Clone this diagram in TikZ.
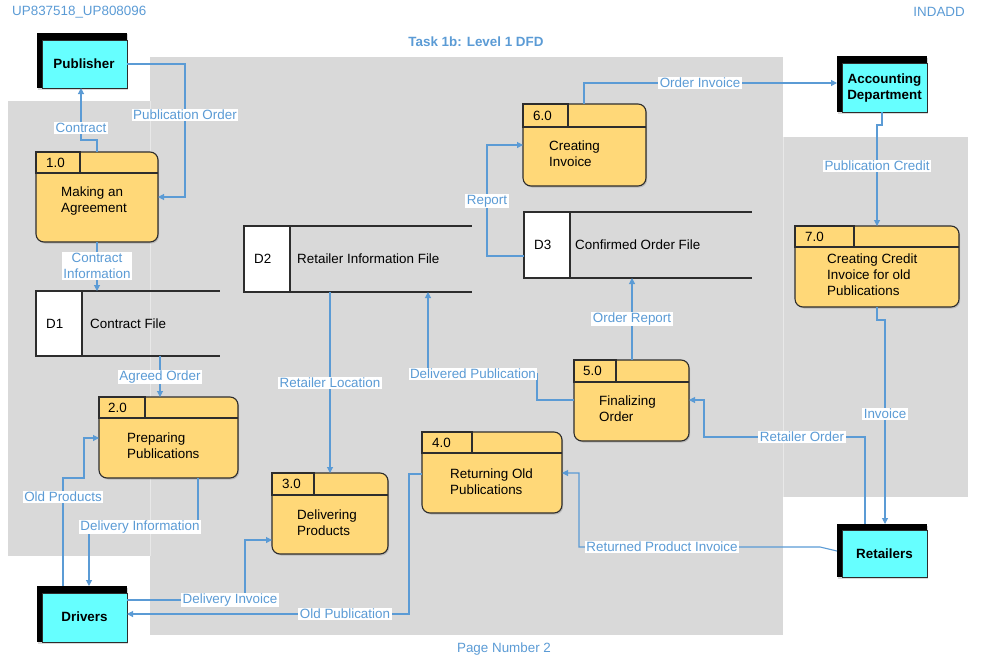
\documentclass[tikz,border=0pt]{standalone}
\usepackage{fontspec}
\setmainfont{Liberation Sans}
\usetikzlibrary{arrows.meta,shadows}
\definecolor{panelgray}{RGB}{217,217,217}
\definecolor{flowblue}{RGB}{91,155,213}
\definecolor{procyellow}{RGB}{255,216,120}
\definecolor{entcyan}{RGB}{102,255,255}
\definecolor{edgegray}{RGB}{45,45,45}
\newcommand\dfdfont{\fontsize{13.4}{15.8}\selectfont}
\tikzset{
  panel/.style={fill=panelgray},
  proc/.style={draw=edgegray, line width=1.1pt, fill=procyellow, rounded corners=8pt,
    inner sep=0pt, outer sep=0pt,
    drop shadow={shadow xshift=1.2pt, shadow yshift=-1.5pt, opacity=0.35}},
  tabbox/.style={draw=edgegray, line width=1.1pt, fill=procyellow},
  ptext/.style={font=\dfdfont, align=left, anchor=west, inner sep=0pt},
  idtext/.style={font=\dfdfont, anchor=west, inner sep=0pt},
  entity/.style={fill=black, inner sep=0pt, outer sep=0pt,
    drop shadow={shadow xshift=1.2pt, shadow yshift=-1.5pt, opacity=0.3}},
  ecyan/.style={draw=edgegray, line width=0.8pt, fill=entcyan},
  etext/.style={font=\dfdfont\bfseries, align=center, inner sep=0pt},
  store/.style={inner sep=0pt, outer sep=0pt},
  sline/.style={draw=edgegray, line width=1.1pt},
  flow/.style={draw=flowblue, line width=1.1pt, -{Triangle[length=6pt,width=6pt]}},
  lbl/.style={fill=white, text=flowblue, font=\dfdfont, inner xsep=1.5pt, inner ysep=1pt, align=center},
  hdr/.style={text=flowblue, font=\dfdfont, inner sep=0pt}
}
\begin{document}
\begin{tikzpicture}[x=1pt,y=-1pt]
\useasboundingbox (0,0) rectangle (981,669);
% panels
\fill[panel] (8,101) rectangle (160,556);
\fill[panel] (150,57) rectangle (783,635);
\fill[panel] (783,137) rectangle (968,497);
\draw[white!40!panelgray, line width=0.6pt] (150,101) -- (150,556);
\draw[white!40!panelgray, line width=0.6pt] (783,137) -- (783,497);

% header texts
\node[hdr, anchor=west] (hdrl) at (12,12) {UP837518\_UP808096};
\node[hdr, anchor=east] (hdrr) at (965,12) {INDADD};
\node[hdr, font=\dfdfont\bfseries] (title) at (476,42) {Task 1b: Level 1 DFD};
\node[hdr] (pg) at (504,649) {Page Number 2};

% external entities
\node[entity, minimum width=90pt, minimum height=55pt] (pub) at (82,60.5) {};
\filldraw[ecyan] ([xshift=5pt,yshift=-7pt]pub.north west) rectangle (pub.south east);
\node[etext] (pubt) at (84,64) {Publisher};

\node[entity, minimum width=90pt, minimum height=56pt] (acc) at (882,84) {};
\filldraw[ecyan] ([xshift=5pt,yshift=-7pt]acc.north west) rectangle (acc.south east);
\node[etext] (acct) at (884.5,88) {Accounting\\Department};

\node[entity, minimum width=90pt, minimum height=56pt] (drv) at (82,614) {};
\filldraw[ecyan] ([xshift=5pt,yshift=-7pt]drv.north west) rectangle (drv.south east);
\node[etext] (drvt) at (84.5,617) {Drivers};

\node[entity, minimum width=90pt, minimum height=53pt] (ret) at (882,550.5) {};
\filldraw[ecyan] ([xshift=5pt,yshift=-6pt]ret.north west) rectangle (ret.south east);
\node[etext] (rett) at (884.5,554) {Retailers};

% data stores
\node[store, minimum width=184pt, minimum height=65pt] (d1) at (128,323.5) {};
\filldraw[sline, fill=white] (d1.north west) rectangle (82,0 |- d1.south);
\draw[sline] (d1.north west) -- (d1.north east);
\draw[sline] (d1.south west) -- (d1.south east);
\node[idtext] (d1id) at (46,323.5) {D1};
\node[idtext] (d1n) at (90,323.5) {Contract File};

\node[store, minimum width=228pt, minimum height=66pt] (d2) at (358,259) {};
\filldraw[sline, fill=white] (d2.north west) rectangle (290,0 |- d2.south);
\draw[sline] (d2.north west) -- (d2.north east);
\draw[sline] (d2.south west) -- (d2.south east);
\node[idtext] (d2id) at (254,259) {D2};
\node[idtext] (d2n) at (297,259) {Retailer Information File};

\node[store, minimum width=228pt, minimum height=66pt] (d3) at (638,245) {};
\filldraw[sline, fill=white] (d3.north west) rectangle (570,0 |- d3.south);
\draw[sline] (d3.north west) -- (d3.north east);
\draw[sline] (d3.south west) -- (d3.south east);
\node[idtext] (d3id) at (534,245) {D3};
\node[idtext] (d3n) at (575,245) {Confirmed Order File};

% processes
\node[proc, minimum width=122pt, minimum height=90pt] (p1) at (97,197) {};
\filldraw[tabbox] (p1.north west) rectangle (80,173);
\draw[sline] (p1.west |- 0,173) -- (p1.east |- 0,173);
\node[idtext] (p1id) at (46,162.5) {1.0};
\node[ptext] (p1t) at (61,201) {Making an\\Agreement};

\node[proc, minimum width=139pt, minimum height=81pt] (p2) at (168.5,437.5) {};
\filldraw[tabbox] (p2.north west) rectangle (145,418);
\draw[sline] (p2.west |- 0,418) -- (p2.east |- 0,418);
\node[idtext] (p2id) at (108,407.5) {2.0};
\node[ptext] (p2t) at (127,445.5) {Preparing\\Publications};

\node[proc, minimum width=116pt, minimum height=81pt] (p3) at (330,513.5) {};
\filldraw[tabbox] (p3.north west) rectangle (314,495);
\draw[sline] (p3.west |- 0,495) -- (p3.east |- 0,495);
\node[idtext] (p3id) at (282,484) {3.0};
\node[ptext] (p3t) at (297,523) {Delivering\\Products};

\node[proc, minimum width=140pt, minimum height=81pt] (p4) at (492,472.5) {};
\filldraw[tabbox] (p4.north west) rectangle (472,453);
\draw[sline] (p4.west |- 0,453) -- (p4.east |- 0,453);
\node[idtext] (p4id) at (432,443) {4.0};
\node[ptext] (p4t) at (450,482) {Returning Old\\Publications};

\node[proc, minimum width=115pt, minimum height=81pt] (p5) at (631.5,400.5) {};
\filldraw[tabbox] (p5.north west) rectangle (616,382);
\draw[sline] (p5.west |- 0,382) -- (p5.east |- 0,382);
\node[idtext] (p5id) at (583,371) {5.0};
\node[ptext] (p5t) at (599,409) {Finalizing\\Order};

\node[proc, minimum width=123pt, minimum height=82pt] (p6) at (584.5,145) {};
\filldraw[tabbox] (p6.north west) rectangle (568,127);
\draw[sline] (p6.west |- 0,127) -- (p6.east |- 0,127);
\node[idtext] (p6id) at (533,115.5) {6.0};
\node[ptext] (p6t) at (549,154) {Creating\\Invoice};

\node[proc, minimum width=164pt, minimum height=81pt] (p7) at (877,266.5) {};
\filldraw[tabbox] (p7.north west) rectangle (854,247);
\draw[sline] (p7.west |- 0,247) -- (p7.east |- 0,247);
\node[idtext] (p7id) at (805,236.5) {7.0};
\node[ptext] (p7t) at (827,275) {Creating Credit\\Invoice for old\\Publications};

% connectors
\draw[flow] (97,0 |- p1.north) -- (97,140) -- (81,140) -- (81,0 |- pub.south);
\draw[flow] (pub.east |- 0,64) -- (185,64) -- (185,197) -- (p1.east |- 0,197);
\draw[flow] (97,0 |- p1.south) -- (97,0 |- d1.north);
\draw[flow] (160,0 |- d1.south) -- (160,0 |- p2.north);
\draw[flow] (63,0 |- drv.north) -- (63,478) -- (84,478) -- (84,438) -- (p2.west |- 0,438);
\draw[flow] (198,0 |- p2.south) -- (198,527) -- (89,527) -- (89,0 |- drv.north);
\draw[flow] (drv.east |- 0,600) -- (245,600) -- (245,540) -- (p3.west |- 0,540);
\draw[flow] (p4.west |- 0,474) -- (409,474) -- (409,614) -- (drv.east |- 0,614);
\draw[flow] (330,0 |- d2.south) -- (330,0 |- p3.north);
\draw[flow] (p5.west |- 0,400) -- (537,400) -- (537,374) -- (428,374) -- (428,0 |- d2.south);
\draw[flow] (632,0 |- p5.north) -- (632,0 |- d3.south);
\draw[flow] (d3.west |- 0,256) -- (487,256) -- (487,145) -- (p6.west |- 0,145);
\draw[flow] (584,0 |- p6.north) -- (584,83) -- (acc.west |- 0,83);
\draw[flow] (882,0 |- acc.south) -- (882,125) -- (877,125) -- (877,0 |- p7.north);
\draw[flow] (877,0 |- p7.south) -- (877,320) -- (885,320) -- (885,0 |- ret.north);
\draw[flow] (865,0 |- ret.north) -- (865,437) -- (704,437) -- (704,400) -- (p5.east |- 0,400);
\draw[flow] (ret.west |- 0,551) -- (820,547) -- (579,547) -- (579,473) -- (p4.east |- 0,473);

% labels
\node[lbl] (l1) at (81,128) {Contract};
\node[lbl] (l2) at (185,115) {Publication Order};
\node[lbl] (l3) at (97,266) {Contract\\Information};
\node[lbl] (l4) at (160,377) {Agreed Order};
\node[lbl] (l5) at (63,497) {Old Products};
\node[lbl] (l6) at (140,527) {Delivery Information};
\node[lbl] (l7) at (230,600) {Delivery Invoice};
\node[lbl] (l8) at (345,614) {Old Publication};
\node[lbl] (l9) at (330,383) {Retailer Location};
\node[lbl] (l10) at (473,374) {Delivered Publication};
\node[lbl] (l11) at (632,319) {Order Report};
\node[lbl] (l12) at (487,201) {Report};
\node[lbl] (l13) at (700,83) {Order Invoice};
\node[lbl] (l14) at (877,166) {Publication Credit};
\node[lbl] (l15) at (885,414) {Invoice};
\node[lbl] (l16) at (802,437) {Retailer Order};
\node[lbl] (l17) at (662,547) {Returned Product Invoice};
\end{tikzpicture}
\end{document}
